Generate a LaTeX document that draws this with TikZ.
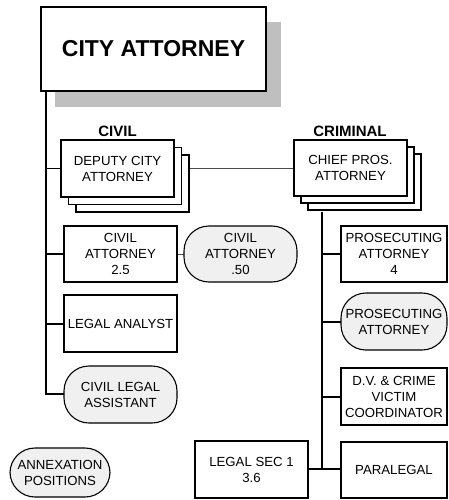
\documentclass[tikz,border=0pt]{standalone}
\usepackage{fontspec}
\setmainfont{Liberation Sans}
\begin{document}
\begin{tikzpicture}[x=1pt,y=-1pt,
  box/.style={draw=black,line width=1.1pt,fill=white,inner sep=0pt,align=center,
    font=\fontsize{13.2}{16}\selectfont},
  rbox/.style={box,fill=gray!12,rounded corners=25pt},
  backbox/.style={draw=black,line width=1.1pt,fill=white,inner sep=0pt},
  conn/.style={line width=1.6pt,black},
  thin/.style={line width=0.9pt,black!70},
  head/.style={font=\bfseries\fontsize{15}{18}\selectfont,inner sep=0pt}
]
\useasboundingbox (0,0) rectangle (448,500);

% shadow + city attorney
\fill[gray!50] (55,22) rectangle (281,107);
\node[box,font=\bfseries\fontsize{23}{27}\selectfont,minimum width=225pt,minimum height=84pt] (ca) at (153.5,49) {CITY ATTORNEY};

% headings
\node[head] (civil) at (117.5,131) {CIVIL};
\node[head] (crim) at (350,131) {CRIMINAL};

% coordinates
\coordinate (trunk) at (46,91);
\coordinate (ctrunk) at (322,212);

% civil connectors
\draw[conn] (trunk) -- (46,394) -- (64,394);
\draw[conn] (46,168.5) -- (61,168.5);
\draw[conn] (46,254) -- (64,254);
\draw[conn] (46,324) -- (64,324);
\draw[thin] (177,254) -- (184,254);
\draw[thin] (189,168.5) -- (294,168.5);

% criminal connectors
\draw[conn] (ctrunk) -- (322,469);
\draw[conn] (322,254) -- (341,254);
\draw[conn] (322,322) -- (341,322);
\draw[conn] (322,397) -- (341,397);
\draw[conn] (308,469) -- (341,469);

% deputy city attorney stack
\node[backbox,minimum width=113pt,minimum height=57pt] (dca3) at (132.5,183.5) {};
\node[backbox,minimum width=113pt,minimum height=57pt] (dca2) at (125,176) {};
\node[box,minimum width=113pt,minimum height=57pt] (dca) at (117.5,168.5) {DEPUTY CITY\\ATTORNEY};

% chief pros stack
\node[backbox,minimum width=113pt,minimum height=56pt] (cpa3) at (364.5,182) {};
\node[backbox,minimum width=113pt,minimum height=56pt] (cpa2) at (357.5,175) {};
\node[box,minimum width=113pt,minimum height=56pt] (cpa) at (350.5,168) {CHIEF PROS.\\ATTORNEY};

% civil column
\node[box,minimum width=113pt,minimum height=56pt] (civ) at (120.5,254) {CIVIL\\ATTORNEY\\2.5};
\node[rbox,minimum width=113pt,minimum height=56pt] (civ50) at (240.5,254) {CIVIL\\ATTORNEY\\.50};
\node[box,minimum width=113pt,minimum height=57pt] (la) at (120.5,323.5) {LEGAL ANALYST};
\node[rbox,minimum width=113pt,minimum height=57pt] (cla) at (120.5,394.5) {CIVIL LEGAL\\ASSISTANT};
\node[rbox,minimum width=100pt,minimum height=49pt] (ann) at (60,472.5) {ANNEXATION\\POSITIONS};

% criminal column
\node[box,minimum width=106pt,minimum height=56pt] (pa4) at (394,254) {PROSECUTING\\ATTORNEY\\4};
\node[rbox,minimum width=106pt,minimum height=57pt] (pa) at (394,321.5) {PROSECUTING\\ATTORNEY};
\node[box,minimum width=106pt,minimum height=57pt] (dv) at (394,396.5) {D.V. \& CRIME\\VICTIM\\COORDINATOR};
\node[box,minimum width=106pt,minimum height=56pt] (para) at (394,470) {PARALEGAL};
\node[box,minimum width=113pt,minimum height=57pt] (ls) at (251.5,469.5) {LEGAL SEC 1\\3.6};
\end{tikzpicture}
\end{document}
